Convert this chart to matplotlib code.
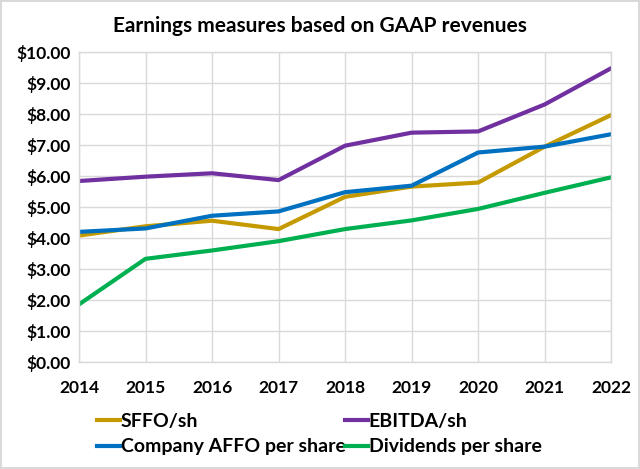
import matplotlib.pyplot as plt
from matplotlib.ticker import FuncFormatter

years = [2014, 2015, 2016, 2017, 2018, 2019, 2020, 2021, 2022]
sffo = [4.08, 4.38, 4.56, 4.29, 5.33, 5.66, 5.79, 6.95, 7.97]
ebitda = [5.84, 5.98, 6.09, 5.87, 6.98, 7.40, 7.44, 8.31, 9.48]
affo = [4.20, 4.31, 4.72, 4.86, 5.48, 5.69, 6.76, 6.95, 7.35]
dividends = [1.86, 3.33, 3.60, 3.90, 4.29, 4.57, 4.94, 5.46, 5.96]

plt.rcParams['font.family'] = ['Lato', 'DejaVu Sans']
plt.rcParams['font.weight'] = 'bold'

fig = plt.figure(figsize=(6.4, 4.69), dpi=100, edgecolor='#d9d9d9', linewidth=1.5)
ax = fig.add_axes([0.1234, 0.228, 0.8316, 0.661])

l1, = ax.plot(years, sffo, color='#C59A00', linewidth=3, label='SFFO/sh')
l2, = ax.plot(years, ebitda, color='#7030A0', linewidth=3, label='EBITDA/sh')
l3, = ax.plot(years, affo, color='#0070C0', linewidth=3, label='Company AFFO per share')
l4, = ax.plot(years, dividends, color='#00B050', linewidth=3, label='Dividends per share')

ax.set_xlim(2014, 2022)
ax.set_ylim(0, 10)
ax.set_xticks(years)
ax.set_yticks(range(0, 11))
ax.yaxis.set_major_formatter(FuncFormatter(lambda v, p: f'${v:.2f}'))
ax.tick_params(length=0, labelsize=12.5)
ax.tick_params(axis='x', pad=13)
ax.tick_params(axis='y', pad=6)
ax.grid(color='#d9d9d9', linewidth=1)
ax.set_axisbelow(True)
for s in ax.spines.values():
    s.set_color('#d9d9d9')
    s.set_linewidth(1)

fig.suptitle('Earnings measures based on GAAP revenues', y=0.965, fontsize=15, fontweight='bold')

# legend order: column-wise fill, so rows read SFFO/EBITDA then AFFO/Dividends
fig.legend([l1, l3, l2, l4], [l.get_label() for l in (l1, l3, l2, l4)],
           loc='upper left', bbox_to_anchor=(0.152, 0.12), ncol=2, frameon=False,
           fontsize=14, handlelength=1.15, handletextpad=0.05, columnspacing=0.0,
           labelspacing=0.45, borderaxespad=0, borderpad=0)

fig.savefig('out.png', dpi=100)
